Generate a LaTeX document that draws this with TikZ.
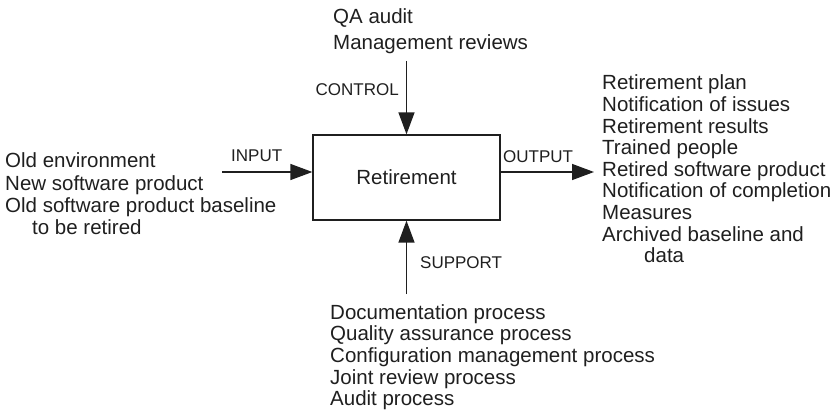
\documentclass[tikz,border=0pt]{standalone}
\usepackage{fontspec}
\setmainfont{Liberation Sans}
\usetikzlibrary{arrows.meta}
\definecolor{ink}{gray}{0.12}
\begin{document}
\begin{tikzpicture}[x=1pt,y=-1pt,
  main/.style={font=\fontsize{20.5}{21.6}\selectfont, inner sep=0pt, anchor=base west, text=ink},
  lab/.style={font=\fontsize{17}{20}\selectfont, inner sep=0pt, text=ink},
  arr/.style={draw=ink, line width=1.4pt, -{Triangle[length=22pt,width=16pt]}},
]
\useasboundingbox (0,0) rectangle (836,417);
\node[draw=ink, line width=1.3pt, minimum width=187pt, minimum height=85pt, inner sep=0pt,
  font=\fontsize{20.5}{21.6}\selectfont, text=ink] (box) at (406.5,177.5) {Retirement};

% control
\node[main] (c1) at (333,24) {QA audit};
\node[main] (c2) at (333,50) {Management reviews};
\coordinate (csrc) at (406.5,61);
\draw[arr] (csrc) -- (box.north);
\node[lab, anchor=base east] (clab) at (399,96) {CONTROL};

% input
\node[main] (i1) at (5,168) {Old environment};
\node[main] (i2) at (5,190) {New software product};
\node[main] (i3) at (5,212) {Old software product baseline};
\node[main] (i4) at (32,234) {to be retired};
\coordinate (isrc) at (222,172);
\draw[arr] (isrc) -- (isrc -| box.west);
\node[lab, anchor=base west] (ilab) at (231,162) {INPUT};

% output
\coordinate (odst) at (594,172);
\draw[arr] (odst -| box.east) -- (odst);
\node[lab, anchor=base west] (olab) at (503,163) {OUTPUT};
\foreach \t [count=\i] in {Retirement plan, Notification of issues, Retirement results,
  Trained people, Retired software product, Notification of completion, Measures,
  Archived baseline and}
  \node[main] (o\i) at (602,{90+21.6*(\i-1)}) {\t};
\node[main] (o9) at (644,{90+21.6*8}) {data};

% support
\coordinate (ssrc) at (406.5,294);
\draw[arr] (ssrc) -- (box.south);
\node[lab, anchor=base west] (slab) at (420,268) {SUPPORT};
\foreach \t [count=\i] in {Documentation process, Quality assurance process,
  Configuration management process, Joint review process, Audit process}
  \node[main] (s\i) at (330,{319+21.7*(\i-1)}) {\t};
\end{tikzpicture}
\end{document}
